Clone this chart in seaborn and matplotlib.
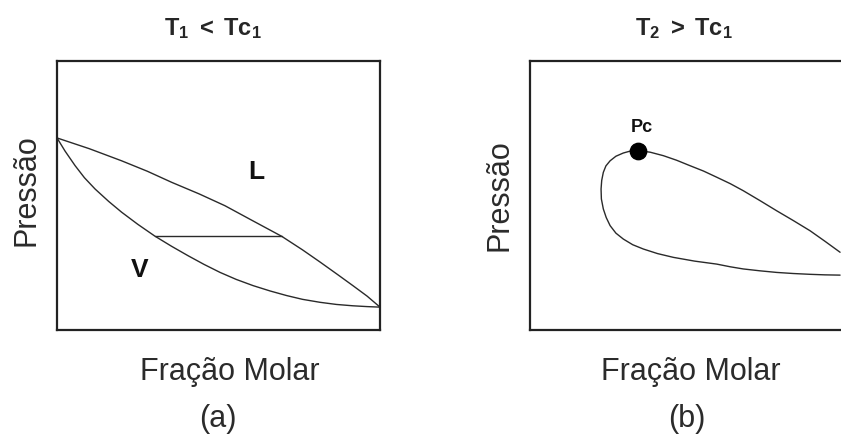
import matplotlib
matplotlib.use("Agg")
import matplotlib.pyplot as plt
import seaborn as sns

# (a) T1 < Tc1: bubble (liquid) and dew (vapour) curves, plus one tie line
liq_x = [0.0, 0.100, 0.200, 0.280, 0.355, 0.440, 0.520, 0.600, 0.696, 0.760, 0.814,
         0.870, 0.916, 0.960, 1.0]
liq_p = [0.714, 0.674, 0.629, 0.590, 0.549, 0.506, 0.462, 0.410, 0.348, 0.298, 0.253,
         0.205, 0.165, 0.126, 0.085]

vap_x = [0.0, 0.025, 0.056, 0.085, 0.118, 0.160, 0.200, 0.250, 0.303, 0.355, 0.406,
         0.455, 0.505, 0.555, 0.607, 0.660, 0.711, 0.760, 0.814, 0.865, 0.916, 0.960, 1.0]
vap_p = [0.714, 0.665, 0.611, 0.566, 0.524, 0.478, 0.438, 0.393, 0.349, 0.311, 0.276,
         0.244, 0.214, 0.188, 0.165, 0.145, 0.128, 0.114, 0.103, 0.095, 0.090, 0.087, 0.085]

tie_x = [0.303, 0.696]
tie_p = [0.348, 0.348]

# (b) T2 > Tc1: closed phase envelope with its critical point
env_x = [0.960, 0.913, 0.867, 0.815, 0.764, 0.712, 0.660, 0.620, 0.578, 0.537, 0.495,
         0.454, 0.413, 0.372, 0.335, 0.310, 0.289, 0.266, 0.248, 0.235, 0.227, 0.222,
         0.220, 0.221, 0.227, 0.236, 0.248, 0.266, 0.289, 0.318, 0.351, 0.395, 0.444,
         0.510, 0.578, 0.620, 0.660, 0.712, 0.764, 0.815, 0.867, 0.913, 0.960]
env_p = [0.289, 0.330, 0.369, 0.407, 0.443, 0.481, 0.518, 0.544, 0.568, 0.591, 0.611,
         0.631, 0.648, 0.661, 0.667, 0.665, 0.658, 0.646, 0.629, 0.610, 0.586, 0.556,
         0.524, 0.487, 0.450, 0.418, 0.388, 0.360, 0.338, 0.317, 0.301, 0.284, 0.270,
         0.256, 0.245, 0.235, 0.227, 0.220, 0.214, 0.210, 0.207, 0.205, 0.204]
pc_x = [0.335]
pc_p = [0.667]

titles = [r"$\mathbf{T_1\ <\ Tc_1}$", r"$\mathbf{T_2\ >\ Tc_1}$"]
panel_tags = ["(a)", "(b)"]
x_label = "Fração Molar"
y_label = "Pressão"

sns.set_style("white")
plt.rcParams["font.family"] = ["Liberation Sans", "DejaVu Sans"]
plt.rcParams["mathtext.fontset"] = "custom"
plt.rcParams["mathtext.rm"] = "Liberation Sans"
plt.rcParams["mathtext.bf"] = "Liberation Sans:bold"
plt.rcParams["mathtext.it"] = "Liberation Sans:italic"

W, H = 841, 435
fig = plt.figure(figsize=(W / 100, H / 100), dpi=100)
fig.patch.set_facecolor("white")


def frac_box(x0, y0, x1, y1):
    return [x0 / W, 1 - y1 / H, (x1 - x0) / W, (y1 - y0) / H]


ax_a = fig.add_axes(frac_box(57, 62, 380, 331))
ax_b = fig.add_axes(frac_box(530, 62, 853, 331))

line_kw = dict(color="#2a2a2a", linewidth=1.0, estimator=None, sort=False, legend=False)

sns.lineplot(x=liq_x, y=liq_p, ax=ax_a, **line_kw)
sns.lineplot(x=vap_x, y=vap_p, ax=ax_a, **line_kw)
sns.lineplot(x=tie_x, y=tie_p, ax=ax_a, **line_kw)
ax_a.text(0.618, 0.590, "L", fontsize=19, fontweight="bold", ha="center", va="center",
          color="#111111")
ax_a.text(0.257, 0.227, "V", fontsize=19, fontweight="bold", ha="center", va="center",
          color="#111111")

sns.lineplot(x=env_x, y=env_p, ax=ax_b, **line_kw)
sns.scatterplot(x=pc_x, y=pc_p, ax=ax_b, s=140, color="black", edgecolor="black",
                zorder=5, legend=False)
ax_b.text(0.347, 0.758, "Pc", fontsize=13, fontweight="bold", ha="center", va="center",
          color="#111111")

layout = [
    (ax_a, titles[0], panel_tags[0], 0.481, 0.534, 0.498, 0.524),
    (ax_b, titles[1], panel_tags[1], 0.475, 0.497, 0.486, 0.506),
]
for ax, title, tag, tx, lx, gx, ly in layout:
    ax.set_xlim(0, 1)
    ax.set_ylim(0, 1)
    ax.set_xticks([])
    ax.set_yticks([])
    for sp in ax.spines.values():
        sp.set_visible(True)
        sp.set_color("#222222")
        sp.set_linewidth(1.6)
    ax.set_title(title, fontsize=17, x=tx, y=1.100, pad=0, va="baseline")
    ax.set_xlabel(x_label, fontsize=22, va="baseline", color="#2b2b2b")
    ax.xaxis.set_label_coords(lx, -0.182)
    ax.set_ylabel(y_label, fontsize=22, va="center", color="#2b2b2b")
    ax.yaxis.set_label_coords(-0.093, ly)
    ax.text(gx, -0.357, tag, fontsize=22, ha="center", va="baseline",
            color="#2b2b2b", transform=ax.transAxes)

fig.savefig("out.png", dpi=100, facecolor="white")
